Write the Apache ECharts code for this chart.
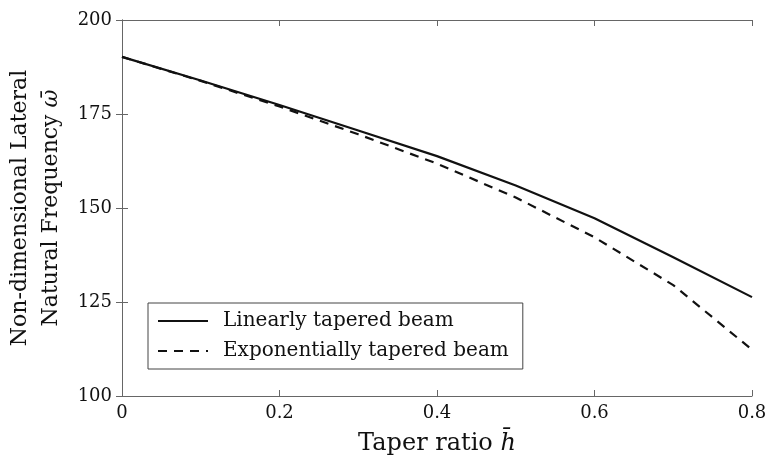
<!DOCTYPE html>
<html>
<head>
<meta charset="utf-8">
<script src="https://cdn.jsdelivr.net/npm/echarts@6/dist/echarts.min.js"></script>
<style>
  html, body { margin: 0; padding: 0; background: #fff; }
  #chart { width: 768px; height: 461px; }
</style>
</head>
<body>
<div id="chart"></div>
<script>
// taper ratio h-bar
const taperRatio = [0, 0.1, 0.2, 0.3, 0.4, 0.5, 0.6, 0.7, 0.8]
// non-dimensional lateral natural frequency
const linearFreq = [190.2, 183.9, 177.4, 170.6, 163.8, 156.0, 147.3, 136.9, 126.3]
const expFreq = [190.2, 183.8, 177.0, 169.6, 161.8, 152.8, 142.2, 129.5, 112.3]
const xTicks = [0, 0.2, 0.4, 0.6, 0.8]
const yTicks = [100, 125, 150, 175, 200]

const font = 'DejaVu Serif'
const axisColor = '#666'

const chart = echarts.init(document.getElementById('chart'))

const frameAxis = {
  axisLine: { show: true, lineStyle: { color: axisColor, width: 1 } },
  axisTick: { show: true, inside: true, length: 6, lineStyle: { color: axisColor } },
  splitLine: { show: false }
}

chart.setOption({
  animation: false,
  grid: { left: 122, right: 16, top: 20, bottom: 65, outerBoundsMode: 'none', containLabel: false },
  legend: {
    orient: 'vertical',
    left: 148,
    top: 303,
    padding: [8, 14, 8, 9],
    itemGap: 10,
    itemWidth: 50,
    itemHeight: 14,
    borderColor: '#444',
    borderWidth: 1,
    itemStyle: { opacity: 0 },
    textStyle: { fontFamily: font, fontSize: 20, color: '#111', padding: [0, 0, 0, 10] },
    data: ['Linearly tapered beam', 'Exponentially tapered beam']
  },
  xAxis: [
    Object.assign({}, frameAxis, {
      type: 'value',
      min: xTicks[0],
      max: xTicks[xTicks.length - 1],
      interval: 0.2,
      name: 'Taper ratio {i|h\u0304}',
      nameLocation: 'middle',
      nameGap: 36,
      nameTextStyle: {
        fontFamily: font, fontSize: 24, color: '#111',
        rich: { i: { fontFamily: font, fontSize: 24, fontStyle: 'italic', color: '#111' } }
      },
      axisLabel: {
        fontFamily: font, fontSize: 18, color: '#111', margin: 8,
        formatter: v => String(+v.toFixed(1))
      }
    }),
    Object.assign({}, frameAxis, {
      type: 'value', position: 'top',
      min: xTicks[0], max: xTicks[xTicks.length - 1], interval: 0.2,
      axisLabel: { show: false }
    })
  ],
  yAxis: [
    Object.assign({}, frameAxis, {
      type: 'value',
      min: yTicks[0],
      max: yTicks[yTicks.length - 1],
      interval: 25,
      name: 'Non-dimensional Lateral\nNatural Frequency {i|\u03c9\u0304}',
      nameLocation: 'middle',
      nameRotate: 90,
      nameGap: 50,
      nameTextStyle: {
        fontFamily: font, fontSize: 22, color: '#111', lineHeight: 31,
        rich: { i: { fontFamily: font, fontSize: 22, fontStyle: 'italic', color: '#111', lineHeight: 31 } }
      },
      axisLabel: { fontFamily: font, fontSize: 18, color: '#111', margin: 10 }
    }),
    Object.assign({}, frameAxis, {
      type: 'value', position: 'right',
      min: yTicks[0], max: yTicks[yTicks.length - 1], interval: 25,
      axisLabel: { show: false }
    })
  ],
  series: [
    {
      name: 'Linearly tapered beam',
      type: 'line',
      symbol: 'none',
      color: '#111',
      lineStyle: { color: '#111', width: 2.2 },
      data: taperRatio.map((x, i) => [x, linearFreq[i]])
    },
    {
      name: 'Exponentially tapered beam',
      type: 'line',
      symbol: 'none',
      color: '#111',
      lineStyle: { color: '#111', width: 2.2, type: [9, 7] },
      data: taperRatio.map((x, i) => [x, expFreq[i]])
    }
  ]
})
</script>
</body>
</html>
